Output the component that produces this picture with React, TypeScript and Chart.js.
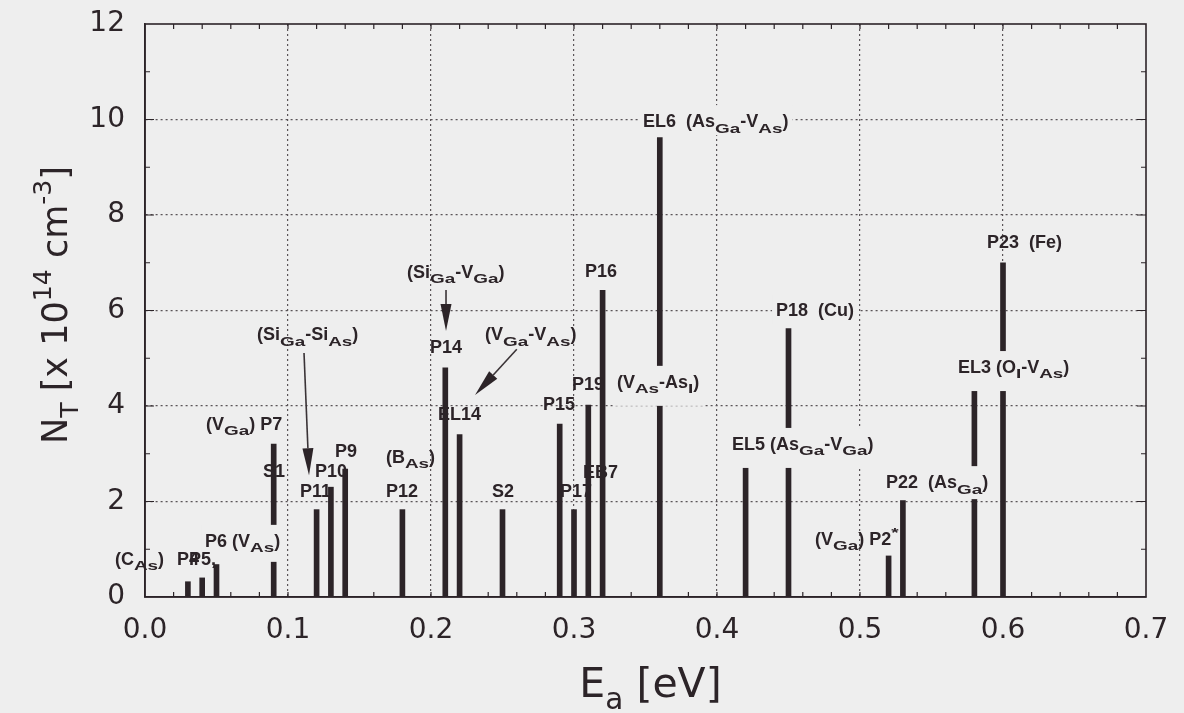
import React, { useEffect, useRef } from "react";
import { Chart, registerables } from "chart.js";

Chart.register(...registerables);

// ---- data ----
const energies = [0.03, 0.04, 0.05, 0.09, 0.12, 0.13, 0.14, 0.18, 0.21, 0.22, 0.25, 0.29, 0.30, 0.31, 0.32, 0.36, 0.42, 0.45, 0.52, 0.53, 0.58, 0.60];
const densities = [0.32, 0.4, 0.68, 3.2, 1.83, 2.3, 2.68, 1.83, 4.8, 3.4, 1.83, 3.62, 1.83, 4.02, 6.42, 9.62, 2.83, 5.62, 0.86, 2.02, 4.4, 7.0];
const xTickValues = [0, 0.1, 0.2, 0.3, 0.4, 0.5, 0.6, 0.7];
const yTickValues = [0, 2, 4, 6, 8, 10, 12];

// text annotations, anchored in data units (left x, baseline y)
const labelTexts = [
  "(C_{As})", "P4", "P5,", "P6 (V_{As})", "(V_{Ga}) P7", "S1", "(Si_{Ga}-Si_{As})", "P10", "P9", "P11",
  "(B_{As})", "P12", "(Si_{Ga}-V_{Ga})", "P14", "(V_{Ga}-V_{As})", "EL14", "S2", "P15", "P17", "EB7",
  "P19", "(V_{As}-As_{I})", "P16", "EL6  (As_{Ga}-V_{As})", "P18  (Cu)", "EL5 (As_{Ga}-V_{Ga})", "(V_{Ga}) P2^{*}",
  "P22  (As_{Ga})", "EL3 (O_{I}-V_{As})", "P23  (Fe)",
];
const labelX = [
  -0.021, 0.0224, 0.0308, 0.042, 0.0427, 0.0825, 0.0783, 0.1189, 0.1329, 0.1084,
  0.1685, 0.1685, 0.1832, 0.1993, 0.2378, 0.2049, 0.2427, 0.2783, 0.2902, 0.3063,
  0.2986, 0.330, 0.3077, 0.3483, 0.4413, 0.4105, 0.4685,
  0.5182, 0.5685, 0.5888,
];
const labelY = [
  0.67, 0.67, 0.67, 1.05, 3.5, 2.51, 5.38, 2.51, 2.93, 2.09,
  2.81, 2.09, 6.68, 5.11, 5.38, 3.71, 2.09, 3.92, 2.09, 2.49,
  4.34, 4.38, 6.70, 9.84, 5.88, 3.08, 1.09,
  2.28, 4.69, 7.31,
];
// how far (px) the label's background patch reaches below the baseline; 0 = no patch
const labelPatchBelow = [
  0, 0, 0, 15, 0, 0, 0, 0, 0, 0,
  0, 0, 0, 0, 0, 0, 0, 0, 0, 0,
  0, 18, 0, 8, 8, 18, 0,
  11, 18, 0,
];

// arrows (data units): from -> to
const arrowFromX = [0.1112, 0.2105, 0.260];
const arrowFromY = [5.11, 6.43, 5.19];
const arrowToX = [0.1147, 0.2105, 0.2308];
const arrowToY = [2.55, 5.57, 4.23];

const BG = "#eeeeee";
const INK = "#2c2428";
const GRID = "#5a5458";
const TICK_FONT = "'DejaVu Sans', 'Liberation Sans', sans-serif";
const LABEL_FONT = "'Liberation Sans', Arial, sans-serif";

type Seg = { t: string; mode: "n" | "sub" | "sup" };

function parseRich(s: string): Seg[] {
  const out: Seg[] = [];
  let buf = "";
  let i = 0;
  while (i < s.length) {
    const c = s[i];
    if ((c === "_" || c === "^") && s[i + 1] === "{") {
      if (buf) { out.push({ t: buf, mode: "n" }); buf = ""; }
      const end = s.indexOf("}", i + 2);
      out.push({ t: s.slice(i + 2, end), mode: c === "_" ? "sub" : "sup" });
      i = end + 1;
    } else {
      buf += c;
      i++;
    }
  }
  if (buf) out.push({ t: buf, mode: "n" });
  return out;
}

// subStretch: horizontal stretch of sub/superscripts
function richWidth(ctx: CanvasRenderingContext2D, segs: Seg[], size: number, weight: string, family: string, subScale: number, subStretch: number) {
  let w = 0;
  for (const sg of segs) {
    const isN = sg.mode === "n";
    const sz = isN ? size : size * subScale;
    ctx.font = `${weight} ${sz}px ${family}`;
    w += ctx.measureText(sg.t).width * (isN ? 1 : subStretch);
  }
  return w;
}

function drawRich(ctx: CanvasRenderingContext2D, segs: Seg[], x: number, y: number, size: number, weight: string, family: string, subScale: number, subStretch: number) {
  let cx = x;
  ctx.textBaseline = "alphabetic";
  ctx.textAlign = "left";
  for (const sg of segs) {
    const isN = sg.mode === "n";
    const sz = isN ? size : size * subScale;
    const dy = sg.mode === "sub" ? size * 0.3 : sg.mode === "sup" ? -size * 0.45 : 0;
    ctx.font = `${weight} ${sz}px ${family}`;
    const w = ctx.measureText(sg.t).width;
    if (isN || subStretch === 1) {
      ctx.fillText(sg.t, cx, y + dy);
      cx += w * (isN ? 1 : subStretch);
    } else {
      ctx.save();
      ctx.translate(cx, y + dy);
      ctx.scale(subStretch, 1);
      ctx.fillText(sg.t, 0, 0);
      ctx.restore();
      cx += w * subStretch;
    }
  }
  return cx;
}

const bgPlugin = {
  id: "bgFill",
  beforeDraw(chart: any) {
    const ctx = chart.ctx;
    ctx.save();
    ctx.fillStyle = BG;
    ctx.fillRect(0, 0, chart.width, chart.height);
    ctx.restore();
  },
};

const LS = 18; // label font size

const decorPlugin = {
  id: "decor",
  afterDraw(chart: any) {
    const ctx: CanvasRenderingContext2D = chart.ctx;
    const { left, right, top, bottom } = chart.chartArea;
    const xs = chart.scales.x;
    const ys = chart.scales.y;
    ctx.save();

    // labels: background patches first, then texts
    ctx.save();
    ctx.beginPath();
    ctx.rect(left + 1, top + 1, right - left - 2, bottom - top - 2);
    ctx.rect(0, bottom - 60, left + 2, 60);
    ctx.clip();
    for (let i = 0; i < labelTexts.length; i++) {
      const below = labelPatchBelow[i];
      if (below <= 0) continue;
      const segs = parseRich(labelTexts[i]);
      const px = xs.getPixelForValue(labelX[i]);
      const py = ys.getPixelForValue(labelY[i]);
      const w = richWidth(ctx, segs, LS, "bold", LABEL_FONT, 0.75, 1.4);
      ctx.fillStyle = BG;
      ctx.fillRect(px - 4, py - 22, w + 8, 22 + below);
    }
    ctx.fillStyle = INK;
    for (let i = 0; i < labelTexts.length; i++) {
      const segs = parseRich(labelTexts[i]);
      const px = xs.getPixelForValue(labelX[i]);
      const py = ys.getPixelForValue(labelY[i]);
      drawRich(ctx, segs, px, py, LS, "bold", LABEL_FONT, 0.75, 1.4);
    }
    ctx.restore();

    // arrows
    ctx.strokeStyle = "#3a3336";
    ctx.fillStyle = "#2c2428";
    ctx.lineWidth = 1.6;
    for (let i = 0; i < arrowFromX.length; i++) {
      const x1 = xs.getPixelForValue(arrowFromX[i]);
      const y1 = ys.getPixelForValue(arrowFromY[i]);
      const x2 = xs.getPixelForValue(arrowToX[i]);
      const y2 = ys.getPixelForValue(arrowToY[i]);
      const ang = Math.atan2(y2 - y1, x2 - x1);
      const hl = 27, hw = 5.5;
      const bx = x2 - hl * Math.cos(ang);
      const by = y2 - hl * Math.sin(ang);
      ctx.beginPath();
      ctx.moveTo(x1, y1);
      ctx.lineTo(bx, by);
      ctx.stroke();
      ctx.beginPath();
      ctx.moveTo(x2, y2);
      ctx.lineTo(bx + hw * Math.sin(ang), by - hw * Math.cos(ang));
      ctx.lineTo(bx - hw * Math.sin(ang), by + hw * Math.cos(ang));
      ctx.closePath();
      ctx.fill();
    }

    // inner ticks
    ctx.strokeStyle = INK;
    ctx.lineWidth = 1.2;
    ctx.beginPath();
    for (let i = 1; i < 35; i++) {
      const px = xs.getPixelForValue(i * 0.02);
      ctx.moveTo(px, bottom);
      ctx.lineTo(px, bottom - 5);
      ctx.moveTo(px, top);
      ctx.lineTo(px, top + 5);
    }
    for (let i = 1; i < 12; i++) {
      const py = ys.getPixelForValue(i);
      const len = i % 2 === 0 ? 9 : 5;
      ctx.moveTo(left, py);
      ctx.lineTo(left + len, py);
      ctx.moveTo(right, py);
      ctx.lineTo(right - len, py);
    }
    ctx.stroke();

    // frame
    ctx.lineWidth = 1.6;
    ctx.strokeRect(left, top, right - left, bottom - top);

    // axis titles
    ctx.fillStyle = INK;
    const xt = parseRich("E_{a} [eV]");
    const xw = richWidth(ctx, xt, 41, "normal", TICK_FONT, 0.72, 1);
    drawRich(ctx, xt, (left + right) / 2 - xw / 2 + 5, 697, 41, "normal", TICK_FONT, 0.72, 1);

    const yt = parseRich("N_{T} [x 10^{14} cm^{-3}]");
    const yw = richWidth(ctx, yt, 35, "normal", TICK_FONT, 0.72, 1);
    ctx.save();
    ctx.translate(67, 305);
    ctx.rotate(-Math.PI / 2);
    drawRich(ctx, yt, -yw / 2, 0, 35, "normal", TICK_FONT, 0.72, 1);
    ctx.restore();

    ctx.restore();
  },
};

export default function App() {
  const ref = useRef<HTMLCanvasElement | null>(null);

  useEffect(() => {
    if (!ref.current) return;
    const chart = new Chart(ref.current, {
      type: "bar",
      data: {
        datasets: [
          {
            data: energies.map((e, i) => ({ x: e, y: densities[i] })),
            backgroundColor: INK,
            borderWidth: 0,
            barThickness: 5,
          } as any,
        ],
      },
      options: {
        responsive: false,
        animation: false,
        devicePixelRatio: 1,
        layout: { padding: { top: 24, right: 38, left: 0, bottom: 0 } },
        plugins: { legend: { display: false }, tooltip: { enabled: false }, title: { display: false } },
        scales: {
          x: {
            type: "linear",
            min: 0,
            max: 0.7,
            offset: false,
            afterBuildTicks: (s: any) => {
              s.ticks = xTickValues.map((v) => ({ value: v }));
            },
            afterFit: (s: any) => {
              s.height = 116;
              s.paddingLeft = 0;
              s.paddingRight = 0;
            },
            ticks: {
              callback: (v: any) => Number(v).toFixed(1),
              font: { family: TICK_FONT, size: 28 },
              color: INK,
              padding: 17,
              maxRotation: 0,
              autoSkip: false,
            },
            grid: {
              offset: false,
              drawTicks: false,
              lineWidth: 1.2,
              color: (c: any) => (c.tick && (c.tick.value <= 0.0001 || c.tick.value >= 0.6999) ? "rgba(0,0,0,0)" : GRID),
            },
            border: { display: true, color: INK, width: 1.6, dash: [2, 3] },
          },
          y: {
            type: "linear",
            min: 0,
            max: 12,
            afterBuildTicks: (s: any) => {
              s.ticks = yTickValues.map((v) => ({ value: v }));
            },
            afterFit: (s: any) => {
              s.width = 145;
              s.paddingTop = 0;
              s.paddingBottom = 0;
            },
            ticks: {
              font: { family: TICK_FONT, size: 28 },
              color: INK,
              padding: 20,
              autoSkip: false,
            },
            grid: {
              offset: false,
              drawTicks: false,
              lineWidth: 1.2,
              color: (c: any) => (c.tick && (c.tick.value <= 0 || c.tick.value >= 12) ? "rgba(0,0,0,0)" : GRID),
            },
            border: { display: true, color: INK, width: 1.6, dash: [2, 3] },
          },
        },
      } as any,
      plugins: [bgPlugin, decorPlugin],
    });
    return () => chart.destroy();
  }, []);

  return (
    <div style={{ position: "absolute", left: 0, top: 0, width: 1184, height: 713, background: BG }}>
      <canvas ref={ref} width={1184} height={713} style={{ display: "block", width: 1184, height: 713 }} />
    </div>
  );
}
